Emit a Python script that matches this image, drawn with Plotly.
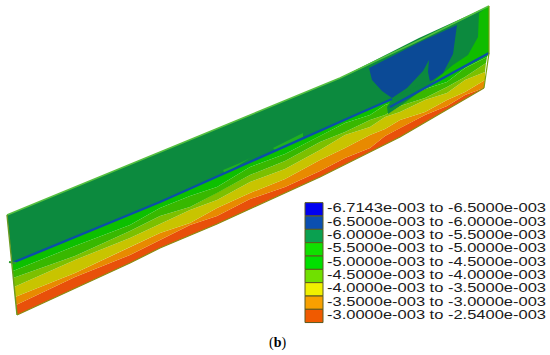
import plotly.graph_objects as go

legend_labels = ["-6.7143e-003 to -6.5000e-003", "-6.5000e-003 to -6.0000e-003", "-6.0000e-003 to -5.5000e-003",
                 "-5.5000e-003 to -5.0000e-003", "-5.0000e-003 to -4.5000e-003", "-4.5000e-003 to -4.0000e-003",
                 "-4.0000e-003 to -3.5000e-003", "-3.5000e-003 to -3.0000e-003", "-3.0000e-003 to -2.5400e-003"]
legend_colors = ["#0000f0", "#0b4fb0", "#0aa050", "#10e000", "#00e000", "#70e000", "#f0f000", "#f8a000", "#f05a00"]
legend_row_centers = [209.3, 222.7, 236, 249.3, 262.7, 276, 289.3, 302.7, 315.9]

# contour band boundaries, bottom to top
edge_bottom = [(17, 315), (130, 263), (160, 248), (217, 224), (320, 177), (370, 152), (400, 137), (484, 88)]
edge_red = [(16, 305), (75, 277), (130, 255), (160, 240), (190, 225), (217, 216), (250, 199), (285, 187), (320, 171),
            (345, 158), (370, 148), (385, 136), (400, 128), (425, 115), (447, 106), (465, 95), (484, 88)]
edge_orange = [(15, 297), (75, 273), (130, 247), (160, 233), (190, 223), (217, 208), (250, 193), (285, 179), (320, 160),
               (345, 148), (370, 135), (385, 129), (400, 120), (425, 112), (447, 100), (465, 92), (485, 80)]
edge_yellow = [(14, 287), (75, 260), (130, 238), (160, 224), (190, 210), (217, 200), (250, 182), (285, 169), (320, 150),
               (345, 135), (370, 127), (385, 117), (400, 112), (425, 100), (447, 93), (465, 80), (485, 72)]
edge_lime = [(13, 278), (75, 256), (130, 231), (160, 216), (190, 207), (217, 193), (250, 175), (285, 161), (320, 142),
             (345, 132), (370, 120), (385, 115), (400, 106), (425, 98), (447, 87), (465, 77), (486, 63)]
edge_green = [(13, 271), (75, 246), (130, 225), (160, 208), (190, 196), (217, 187), (250, 167), (285, 154), (320, 136),
              (345, 123), (370, 115), (385, 105), (400, 100), (425, 89), (447, 82), (465, 68), (487, 57)]
edge_strip = [(12, 263), (160, 202), (360, 113), (392, 99), (392, 107), (489, 53)]
edge_top = [(7, 215), (160, 152), (285, 100), (340, 78), (420, 40), (489, 6)]

band_colors = ["#e8500a", "#e88a00", "#c8c400", "#7cc000", "#38b800", "#0cc000"]

upper_green = [(7, 215), (160, 152), (285, 100), (340, 78), (419, 38), (489, 6), (489, 53), (392, 107), (392, 99), (360, 113), (160, 202), (12, 263)]
bright_corner = [(479, 13), (489, 6), (489, 53), (428, 86), (453, 65), (468, 55), (478, 37)]
deep_blue = [(369, 68), (372, 80), (382, 91), (392, 98), (407, 88), (423, 71), (429, 60), (428, 72), (430, 82), (443, 73), (453, 54), (457, 25), (420, 42)]
notch_green = [(387, 107), (392, 99), (425, 82), (436, 80), (400, 106), (388, 114)]
wedge_a = [(223, 170), (240, 163), (250, 158), (225, 174)]
wedge_b = [(273, 148), (300, 134), (303, 133), (303, 137), (276, 151)]
line_left = [(12, 263), (160, 202), (360, 113), (392, 99)]
line_right = [(390, 107), (489, 53)]
stub = [(9, 262), (16, 263)]
right_edge = [(489, 6), (489, 53), (484, 88)]

fig = go.Figure()


def poly(points, color):
    xs = [p[0] for p in points] + [points[0][0]]
    ys = [p[1] for p in points] + [points[0][1]]
    fig.add_trace(go.Scatter(x=xs, y=ys, mode="lines", fill="toself", fillcolor=color,
                             line=dict(color=color, width=0), hoverinfo="skip", showlegend=False))


def path(points, color, width):
    fig.add_trace(go.Scatter(x=[p[0] for p in points], y=[p[1] for p in points], mode="lines",
                             line=dict(color=color, width=width), hoverinfo="skip", showlegend=False))


poly(upper_green, "#0c8a3e")
poly(bright_corner, "#10bc00")
stack = [edge_bottom, edge_red, edge_orange, edge_yellow, edge_lime, edge_green, edge_strip]
for lower, upper, col in zip(stack[:-1], stack[1:], band_colors):
    poly(lower + upper[::-1], col)
poly(deep_blue, "#0b4a96")
poly(notch_green, "#0c8a3e")
poly(wedge_a, "#1fb020")
poly(wedge_b, "#1fb020")
path(line_left, "#0b4fa8", 2.4)
path(line_right, "#0b4fa8", 2.4)
path(stub, "#2f9a30", 2)
path(edge_top, "#55c040", 1.6)
path(edge_bottom, "#8a8a10", 1.2)
path([edge_top[0], edge_bottom[0]], "#6a9a20", 1.4)
path(right_edge, "#7aa010", 1.2)

fig.add_trace(go.Bar(x=[314] * 9, y=[13.3] * 9, base=[c - 6.65 for c in legend_row_centers], width=18,
                     marker=dict(color=legend_colors, line=dict(color="#5a5a20", width=1)),
                     hoverinfo="skip", showlegend=False))
fig.add_trace(go.Scatter(x=[327] * 9, y=legend_row_centers, mode="text", text=legend_labels,
                         textposition="middle right",
                         textfont=dict(family="Liberation Sans", size=12.5, color="#1a1a1a"),
                         hoverinfo="skip", showlegend=False))
fig.add_annotation(x=277, y=343, text="(<b>b</b>)", showarrow=False,
                   font=dict(family="Liberation Serif", size=14, color="#000"))

fig.update_xaxes(range=[0, 550], visible=False, fixedrange=True)
fig.update_yaxes(range=[355, 0], visible=False, fixedrange=True)
fig.update_layout(width=550, height=355, autosize=False, margin=dict(l=0, r=0, t=0, b=0),
                  paper_bgcolor="white", plot_bgcolor="white", showlegend=False, barmode="overlay")
fig.write_html("out.html", config={"displayModeBar": False},
               post_script="document.body.style.margin='0';"
                           "document.querySelectorAll('.textpoint text').forEach(function(t){"
                           "t.setAttribute('textLength','219');t.setAttribute('lengthAdjust','spacingAndGlyphs');});")
